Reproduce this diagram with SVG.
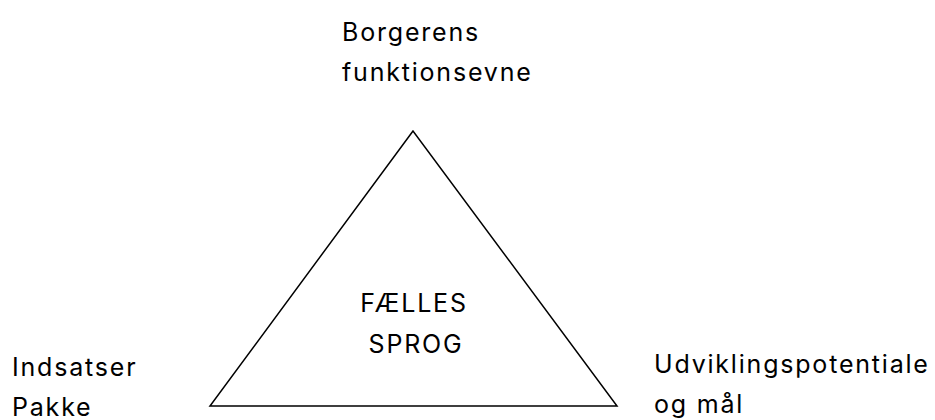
<svg xmlns="http://www.w3.org/2000/svg" width="935" height="420" viewBox="0 0 935 420">
<style>
.t{font-family:Inter,"Liberation Sans",sans-serif;font-size:25px;fill:#000;letter-spacing:1.8px}
.c{text-anchor:middle}
</style>
<rect width="935" height="420" fill="#fff"/>
<g id="triangle">
<polygon points="413,131 210,406 617,406" fill="none" stroke="#000" stroke-width="1.5"/>
</g>
<g id="center">
<text class="t c" x="414" y="312">FÆLLES</text>
<text class="t c" x="416" y="353">SPROG</text>
</g>
<g id="top">
<text class="t" x="342" y="41">Borgerens</text>
<text class="t" x="342" y="81">funktionsevne</text>
</g>
<g id="left">
<text class="t" x="12" y="376">Indsatser</text>
<text class="t" x="12" y="416">Pakke</text>
</g>
<g id="right">
<text class="t" x="654" y="373">Udviklingspotentiale</text>
<text class="t" x="654" y="413">og mål</text>
</g>
</svg>
